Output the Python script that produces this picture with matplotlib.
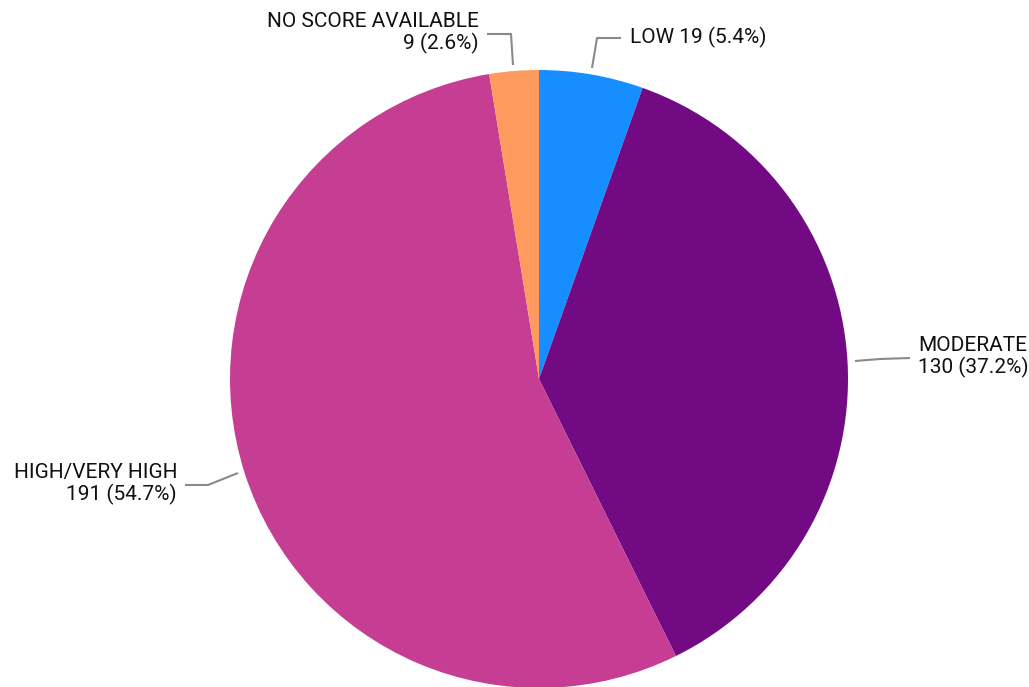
import numpy as np
import matplotlib.pyplot as plt

labels = ["LOW", "MODERATE", "HIGH/VERY HIGH", "NO SCORE AVAILABLE"]
counts = [19, 130, 191, 9]
colors = ["#178eff", "#720a84", "#c53e94", "#ff9a5e"]

plt.rcParams['font.family'] = ['Roboto', 'DejaVu Sans']

W, H = 1029, 687
fig = plt.figure(figsize=(W / 100, H / 100), dpi=100)
ax = fig.add_axes([0, 0, 1, 1])

cx, cy, r = 539, H - 379, 309
wedges, _ = ax.pie(counts, colors=colors, startangle=90, counterclock=False,
                   center=(cx, cy), radius=r, frame=True,
                   wedgeprops=dict(linewidth=0))
ax.set_xlim(0, W)
ax.set_ylim(0, H)
ax.axis('off')

total = sum(counts)
# label layout in pixel coords (image y down): elbow, line end, text pos, ha
layout = [
    ((597, 38), (621, 38), (630, 37), 'left', "{l} {c} ({p:.1f}%)"),
    ((880, 359), (910, 358), (918, 357), 'left', "{l}\n{c} ({p:.1f}%)"),
    ((208, 485), (185, 485), (177, 484), 'right', "{l}\n{c} ({p:.1f}%)"),
    ((511, 34), (487, 34), (479, 33), 'right', "{l}\n{c} ({p:.1f}%)"),
]
line_starts = [(592, 68), (855, 361), (238, 473), (513, 65)]

for i, w in enumerate(wedges):
    elbow, end, tpos, ha, fmt = layout[i]
    sx, sy = line_starts[i]
    xs = [sx, elbow[0], end[0]]
    ys = [H - sy, H - elbow[1], H - end[1]]
    ax.plot(xs, ys, color="#8a8a8a", lw=1.5, solid_capstyle='butt')
    txt = fmt.format(l=labels[i], c=counts[i], p=100 * counts[i] / total)
    ax.text(tpos[0], H - tpos[1], txt, ha=ha, va='center', fontsize=15,
            color="#111111", linespacing=1.12, multialignment=ha)

fig.savefig("out.png", dpi=100)
